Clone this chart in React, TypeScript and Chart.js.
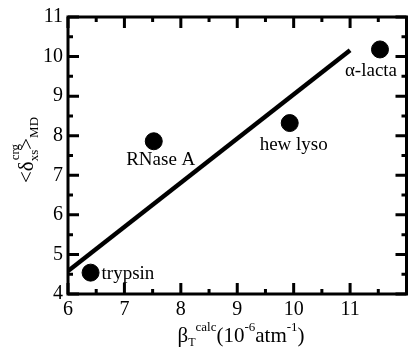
import React, { useEffect, useRef } from 'react';
import { Chart, registerables } from 'chart.js';

Chart.register(...registerables);

const proteinNames = ['trypsin', 'RNase A', 'hew lyso', 'α-lacta'];
const betaTCalc = [6.4, 7.52, 9.93, 11.53];
const deltaXsMD = [4.54, 7.86, 8.32, 10.18];
const fitLineX = [6, 11];
const fitLineY = [4.58, 10.16];
const xRange = [6, 12];
const yRange = [4, 11];

const FONT = '"Liberation Serif", "Times New Roman", Times, serif';

type Piece = { t: string; size: number; dy: number };

function measurePieces(ctx: CanvasRenderingContext2D, pieces: Piece[]) {
  let x = 0;
  for (const p of pieces) {
    ctx.font = `${p.size}px ${FONT}`;
    x += ctx.measureText(p.t).width;
  }
  return x;
}

function drawPieces(ctx: CanvasRenderingContext2D, pieces: Piece[], startX: number, baseY: number) {
  let x = startX;
  for (const p of pieces) {
    ctx.font = `${p.size}px ${FONT}`;
    ctx.fillText(p.t, x, baseY + p.dy);
    x += ctx.measureText(p.t).width;
  }
}

const decorPlugin = {
  id: 'decor',
  afterDatasetsDraw(chart: any) {
    const { ctx, chartArea, scales } = chart;
    const { left, right, top, bottom } = chartArea;
    ctx.save();
    ctx.strokeStyle = '#000';
    ctx.fillStyle = '#000';
    ctx.lineWidth = 3;
    ctx.lineCap = 'butt';
    const xs = scales.x;
    const ys = scales.y;
    ctx.beginPath();
    for (const t of xs.ticks) {
      const px = xs.getPixelForValue(t.value);
      const len = Number.isInteger(t.value) ? 11 : 5;
      ctx.moveTo(px, bottom);
      ctx.lineTo(px, bottom - len);
      ctx.moveTo(px, top);
      ctx.lineTo(px, top + len);
    }
    for (const t of ys.ticks) {
      const py = ys.getPixelForValue(t.value);
      const len = Number.isInteger(t.value) ? 11 : 5;
      ctx.moveTo(left, py);
      ctx.lineTo(left + len, py);
      ctx.moveTo(right, py);
      ctx.lineTo(right - len, py);
    }
    ctx.stroke();
    ctx.strokeRect(left, top, right - left, bottom - top);

    // point labels
    ctx.font = `19px ${FONT}`;
    ctx.textBaseline = 'middle';
    const offs = [
      { dx: 11, dy: 1, align: 'left' },
      { dx: 7, dy: 19, align: 'center' },
      { dx: 4, dy: 22, align: 'center' },
      { dx: -9, dy: 22, align: 'center' },
    ];
    proteinNames.forEach((name, i) => {
      const px = xs.getPixelForValue(betaTCalc[i]);
      const py = ys.getPixelForValue(deltaXsMD[i]);
      ctx.textAlign = offs[i].align;
      ctx.fillText(name, px + offs[i].dx, py + offs[i].dy);
    });

    // x axis title
    ctx.textAlign = 'left';
    ctx.textBaseline = 'alphabetic';
    const xPieces: Piece[] = [
      { t: 'β', size: 21, dy: 0 },
      { t: 'T', size: 12, dy: 4 },
      { t: 'calc', size: 13, dy: -11 },
      { t: '(10', size: 21, dy: 0 },
      { t: '-6', size: 13, dy: -11 },
      { t: 'atm', size: 21, dy: 0 },
      { t: '-1', size: 13, dy: -11 },
      { t: ')', size: 21, dy: 0 },
    ];
    const xw = measurePieces(ctx, xPieces);
    drawPieces(ctx, xPieces, 241 - xw / 2, 342);

    // y axis title (rotated)
    ctx.save();
    ctx.translate(33, 150);
    ctx.rotate(-Math.PI / 2);
    ctx.font = `21px ${FONT}`;
    const wA = ctx.measureText('<δ').width;
    const wB = ctx.measureText('>').width;
    ctx.font = `13px ${FONT}`;
    const wXs = ctx.measureText('xs').width;
    const wMD = ctx.measureText('MD').width;
    const total = wA + wXs + wB + wMD;
    let sx = -total / 2;
    ctx.font = `21px ${FONT}`;
    ctx.fillText('<δ', sx, 0);
    sx += wA;
    ctx.font = `13px ${FONT}`;
    ctx.fillText('xs', sx, 5);
    ctx.fillText('crg', sx + 1, -14);
    sx += wXs;
    ctx.font = `21px ${FONT}`;
    ctx.fillText('>', sx, 0);
    sx += wB;
    ctx.font = `13px ${FONT}`;
    ctx.fillText('MD', sx, 5);
    ctx.restore();

    ctx.restore();
  },
};

export default function App() {
  const ref = useRef<HTMLCanvasElement | null>(null);
  useEffect(() => {
    const canvas = ref.current;
    if (!canvas) return;
    const chart = new Chart(canvas, {
      type: 'scatter',
      data: {
        datasets: [
          {
            type: 'line',
            data: fitLineX.map((x, i) => ({ x, y: fitLineY[i] })),
            borderColor: '#000',
            borderWidth: 4.5,
            pointRadius: 0,
            fill: false,
            borderCapStyle: 'butt',
          } as any,
          {
            type: 'scatter',
            data: betaTCalc.map((x, i) => ({ x, y: deltaXsMD[i] })),
            backgroundColor: '#000',
            borderColor: '#000',
            pointRadius: 8.5,
            pointHoverRadius: 8.5,
          },
        ],
      },
      options: {
        responsive: false,
        animation: false,
        devicePixelRatio: 1,
        layout: { padding: { top: 17, right: 3, left: 0, bottom: 0 } },
        plugins: { legend: { display: false }, tooltip: { enabled: false } },
        events: [],
        scales: {
          x: {
            type: 'linear',
            min: xRange[0],
            max: xRange[1],
            border: { display: false },
            grid: { display: false, drawTicks: false },
            ticks: {
              stepSize: 0.5,
              autoSkip: false,
              maxRotation: 0,
              padding: 4,
              color: '#000',
              font: { family: FONT, size: 20 },
              callback: (v: any) => (Number.isInteger(v) && v !== xRange[1] ? String(v) : ''),
            },
            afterFit: (s: any) => {
              s.height = 55;
            },
          },
          y: {
            type: 'linear',
            min: yRange[0],
            max: yRange[1],
            border: { display: false },
            grid: { display: false, drawTicks: false },
            ticks: {
              stepSize: 0.5,
              autoSkip: false,
              padding: 5,
              color: '#000',
              font: { family: FONT, size: 20 },
              callback: (v: any) => (Number.isInteger(v) ? String(v) : ''),
            },
            afterFit: (s: any) => {
              s.width = 68;
            },
          },
        },
      },
      plugins: [decorPlugin],
    });
    return () => chart.destroy();
  }, []);
  return (
    <div style={{ position: 'fixed', left: 0, top: 0, width: 416, height: 349, background: '#fff' }}>
      <canvas ref={ref} width={416} height={349} style={{ width: 416, height: 349, display: 'block' }} />
    </div>
  );
}
